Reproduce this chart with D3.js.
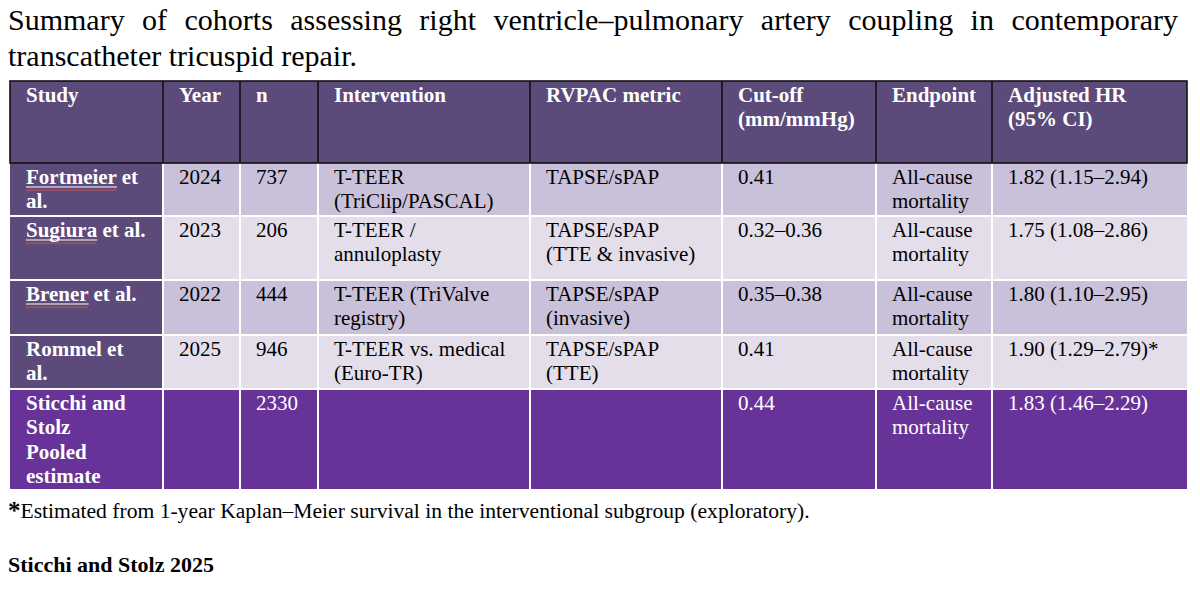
<!DOCTYPE html>
<html>
<head>
<meta charset="utf-8">
<script src="https://cdn.jsdelivr.net/npm/d3@7"></script>
<style>
  body { margin: 0; background: #fff; }
  svg { display: block; }
</style>
</head>
<body>
<div id="chart"></div>
<script>
/* Summary table of RV-PA coupling cohorts, drawn as SVG cells. */

var titleLines = [
  "Summary of cohorts assessing right ventricle\u2013pulmonary artery coupling in contemporary",
  "transcatheter tricuspid repair."
];
var headers = [["Study"], ["Year"], ["n"], ["Intervention"], ["RVPAC metric"],
  ["Cut-off", "(mm/mmHg)"], ["Endpoint"], ["Adjusted HR", "(95% CI)"]];
var studies = [["Fortmeier et", "al."], ["Sugiura et al."], ["Brener et al."],
  ["Rommel et", "al."], ["Sticchi and", "Stolz", "Pooled", "estimate"]];
var flagged = ["Fortmeier", "Sugiura", "Brener", null, null];
var years = ["2024", "2023", "2022", "2025", ""];
var ns = ["737", "206", "444", "946", "2330"];
var interventions = [["T-TEER", "(TriClip/PASCAL)"], ["T-TEER /", "annuloplasty"],
  ["T-TEER (TriValve", "registry)"], ["T-TEER vs. medical", "(Euro-TR)"], []];
var metrics = [["TAPSE/sPAP"], ["TAPSE/sPAP", "(TTE & invasive)"], ["TAPSE/sPAP", "(invasive)"],
  ["TAPSE/sPAP", "(TTE)"], []];
var cutoffs = ["0.41", "0.32\u20130.36", "0.35\u20130.38", "0.41", "0.44"];
var endpoints = [["All-cause", "mortality"], ["All-cause", "mortality"], ["All-cause", "mortality"],
  ["All-cause", "mortality"], ["All-cause", "mortality"]];
var hrs = ["1.82 (1.15\u20132.94)", "1.75 (1.08\u20132.86)", "1.80 (1.10\u20132.95)",
  "1.90 (1.29\u20132.79)*", "1.83 (1.46\u20132.29)"];
var footnoteMark = "*";
var footnote = "Estimated from 1-year Kaplan\u2013Meier survival in the interventional subgroup (exploratory).";
var source = "Sticchi and Stolz 2025";

var W = 1200, H = 590;
var serif = "'Liberation Serif', 'Times New Roman', serif";
var fs = 21, lineH = 24.3, padX = 16, firstBase = 21;
var col = { head: "#5b4a7a", pooled: "#673398", lavA: "#c9c1da", lavB: "#e3deea" };

// column / row edges in px, looked up by index through linear scales
var x = d3.scaleLinear().domain(d3.range(9)).range([10, 163, 240, 318, 530, 722, 876, 992, 1187]);
var y = d3.scaleLinear().domain(d3.range(7)).range([81, 163, 216, 280, 335, 389, 489]);

var svg = d3.select("#chart").append("svg")
  .attr("width", W).attr("height", H)
  .attr("font-family", serif);

// title, first line justified between the margins
var tl = svg.append("g").attr("font-size", 30).attr("fill", "#000");
(function () {
  var words = titleLines[0].split(" ");
  var nodes = words.map(function (w) { return tl.append("text").attr("y", 30).text(w); });
  var widths = nodes.map(function (n) { return n.node().getComputedTextLength(); });
  var gap = (1178 - 8 - d3.sum(widths)) / (words.length - 1);
  var cx = 8;
  nodes.forEach(function (n, i) { n.attr("x", cx); cx += widths[i] + gap; });
  tl.append("text").attr("x", 8).attr("y", 66).text(titleLines[1]);
})();

var rows = studies.map(function (s, r) {
  return [s, [years[r]], [ns[r]], interventions[r], metrics[r], [cutoffs[r]], endpoints[r], [hrs[r]]];
});
var table = [headers].concat(rows);
var last = table.length - 1;

var cells = [];
table.forEach(function (row, r) {
  row.forEach(function (lines, c) {
    var fill, color = "#000", weight = "normal";
    if (r === 0) { fill = col.head; color = "#fff"; weight = "bold"; }
    else if (r === last) { fill = col.pooled; color = "#fff"; weight = c === 0 ? "bold" : "normal"; }
    else if (c === 0) { fill = col.head; color = "#fff"; weight = "bold"; }
    else { fill = r % 2 === 1 ? col.lavA : col.lavB; }
    cells.push({ r: r, c: c, lines: lines.filter(function (l) { return l !== ""; }),
      fill: fill, color: color, weight: weight });
  });
});

var g = svg.append("g");
var cell = g.selectAll("g.cell").data(cells).enter().append("g")
  .attr("class", "cell")
  .attr("transform", function (d) { return "translate(" + x(d.c) + "," + y(d.r) + ")"; });

cell.append("rect")
  .attr("width", function (d) { return x(d.c + 1) - x(d.c); })
  .attr("height", function (d) { return y(d.r + 1) - y(d.r); })
  .attr("fill", function (d) { return d.fill; });

cell.append("text")
  .attr("font-size", fs)
  .attr("fill", function (d) { return d.color; })
  .attr("font-weight", function (d) { return d.weight; })
  .each(function (d) {
    var t = d3.select(this);
    d.lines.forEach(function (l, i) {
      t.append("tspan").attr("x", padX).attr("y", firstBase + i * lineH).text(l);
    });
  });

// spell-check style underline under flagged study names
cell.filter(function (d) { return d.c === 0 && d.r > 0 && flagged[d.r - 1]; })
  .each(function (d) {
    var sel = d3.select(this);
    var probe = sel.append("text").attr("font-size", fs).attr("font-weight", "bold")
      .attr("visibility", "hidden").text(flagged[d.r - 1]);
    var w = probe.node().getComputedTextLength();
    probe.remove();
    var by = firstBase + 3;
    sel.append("line").attr("x1", padX).attr("x2", padX + w).attr("y1", by).attr("y2", by)
      .attr("stroke", "#fff").attr("stroke-width", 1);
    var pts = d3.range(0, Math.floor(w / 2) + 1).map(function (k) {
      return [padX + k * 2, by + 2.5 + (k % 2 ? 1.5 : 0)];
    });
    sel.append("path").attr("d", d3.line()(pts)).attr("fill", "none")
      .attr("stroke", "#d9534f").attr("stroke-width", 0.9);
  });

// white grid in the body
var grid = svg.append("g").attr("stroke", "#fff").attr("stroke-width", 2);
d3.range(1, 8).forEach(function (c) {
  grid.append("line").attr("x1", x(c)).attr("x2", x(c)).attr("y1", y(1)).attr("y2", y(6));
});
d3.range(2, 6).forEach(function (r) {
  grid.append("line").attr("x1", x(0)).attr("x2", x(8)).attr("y1", y(r)).attr("y2", y(r));
});

// black rules in the header
var hg = svg.append("g").attr("stroke", "#111").attr("stroke-width", 1.6).attr("fill", "none");
hg.append("rect").attr("x", x(0)).attr("y", y(0)).attr("width", x(8) - x(0)).attr("height", y(1) - y(0));
d3.range(1, 8).forEach(function (c) {
  hg.append("line").attr("x1", x(c)).attr("x2", x(c)).attr("y1", y(0)).attr("y2", y(1));
});

// footnote and source
var fn = svg.append("text").attr("x", 8).attr("y", 518).attr("font-size", 21.6).attr("fill", "#000");
fn.append("tspan").attr("font-size", 25).attr("font-weight", "bold").attr("dy", 1).text(footnoteMark);
fn.append("tspan").attr("dy", -1).text(footnote);

svg.append("text").attr("x", 8).attr("y", 572).attr("font-size", 22).attr("font-weight", "bold")
  .attr("fill", "#000").text(source);
</script>
</body>
</html>
